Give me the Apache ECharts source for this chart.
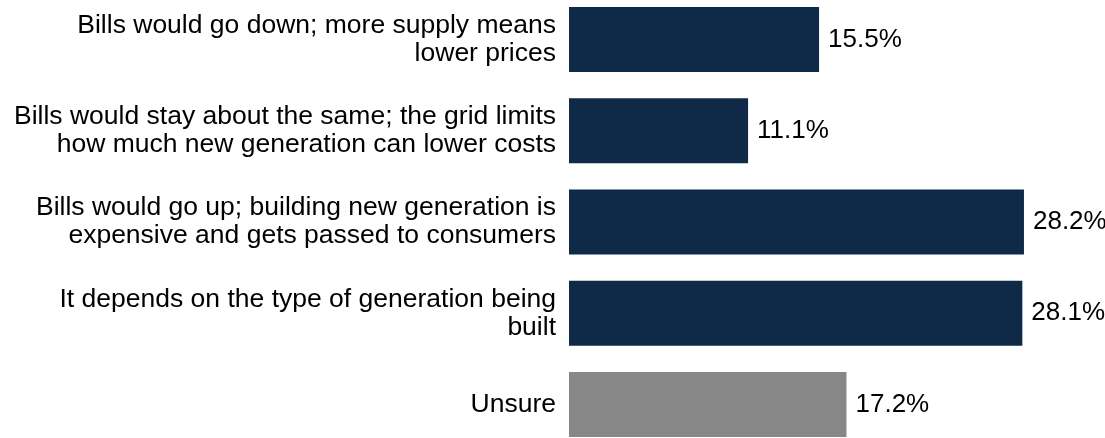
<!DOCTYPE html>
<html>
<head>
<meta charset="utf-8">
<script src="https://cdn.jsdelivr.net/npm/echarts@6/dist/echarts.min.js"></script>
<style>
html,body{margin:0;padding:0;background:#fff;}
#chart{width:1105px;height:438px;}
</style>
</head>
<body>
<div id="chart"></div>
<script>
const categories = [
  "Bills would go down; more supply means\nlower prices",
  "Bills would stay about the same; the grid limits\nhow much new generation can lower costs",
  "Bills would go up; building new generation is\nexpensive and gets passed to consumers",
  "It depends on the type of generation being\nbuilt",
  "Unsure"
];
const values = [15.5, 11.1, 28.2, 28.1, 17.2];

const NAVY = '#0e2a46';
const GRAY = '#878787';
const barColors = [NAVY, NAVY, NAVY, NAVY, GRAY];
const FONT = '"Liberation Sans", Arial, sans-serif';

const chart = echarts.init(document.getElementById('chart'));
chart.setOption({
  animation: false,
  grid: { left: 569, top: -6, width: 484, height: 456, containLabel: false, outerBoundsMode: 'none' },
  xAxis: {
    type: 'value', min: 0, max: 30, show: false
  },
  yAxis: {
    type: 'category', data: categories, inverse: true,
    axisLine: { show: false }, axisTick: { show: false },
    axisLabel: {
      margin: 13, align: 'right', color: '#000',
      fontFamily: FONT, fontSize: 26.5, lineHeight: 28
    }
  },
  series: [{
    type: 'bar',
    barWidth: 65,
    data: values.map((v, i) => ({ value: v, itemStyle: { color: barColors[i] } })),
    label: {
      show: true, position: 'right', distance: 9, color: '#000',
      fontFamily: FONT, fontSize: 26,
      formatter: p => p.value.toFixed(1) + '%'
    }
  }]
});
</script>
</body>
</html>
